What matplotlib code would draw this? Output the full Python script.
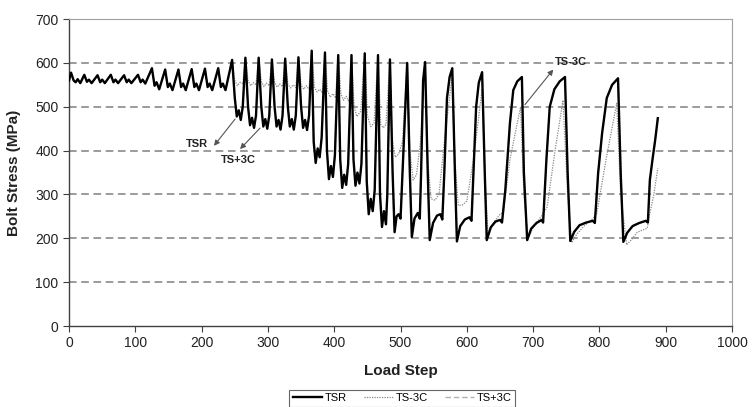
import numpy as np
import matplotlib
matplotlib.use('Agg')
import matplotlib.pyplot as plt

plt.rcParams['font.family'] = ['Liberation Sans', 'DejaVu Sans']

# TSR (thick black) - vertices
tsr_x = [0, 3, 7, 10, 13, 17, 23, 27, 30, 34, 43, 47, 50, 54, 63, 67, 70, 74, 83, 87, 90, 94,
         104, 108, 111, 115,
         125, 129, 132, 136, 145, 149, 152, 156, 165, 169, 172, 176, 185, 189, 192, 196,
         205, 209, 212, 216, 225, 229, 232, 236,
         246, 250, 253, 256, 259, 262, 266, 270, 273, 276, 279, 282, 286, 290, 293, 296, 299, 302,
         306, 310, 313, 316, 319, 322, 326, 330, 333, 336, 339, 342, 346, 350, 353, 356, 359, 362,
         366, 369, 372, 375, 378, 381, 386, 389, 392, 395, 398, 401, 406, 409, 412, 415, 418, 421,
         426, 429, 432, 435, 438, 441, 446, 449, 452, 455, 458, 461, 466, 469, 472, 475, 478, 480,
         484, 488, 491, 494, 497, 500, 503, 510, 514, 517, 521, 526, 529, 531, 534, 537,
         541, 544, 549, 555, 560, 563, 566, 570, 574, 578,
         582, 585, 590, 597, 604, 607, 610, 614, 618, 623,
         627, 630, 636, 643, 650, 653, 658, 665, 670, 676, 683,
         686, 691, 697, 705, 713, 715, 720, 725, 732, 740, 748,
         752, 756, 762, 770, 780, 790, 793, 798, 804, 811, 819, 828,
         832, 836, 842, 850, 860, 870, 873, 876, 880, 884, 888]
tsr_y = [560, 578, 560, 556, 563, 554, 573, 557, 562, 554, 572, 556, 562, 554, 573, 556, 562, 554, 572, 556, 562, 554,
         573, 556, 562, 553,
         588, 548, 556, 540, 585, 545, 553, 538, 585, 545, 553, 538, 586, 545, 553, 538,
         587, 545, 553, 538, 588, 545, 553, 538,
         607, 520, 478, 492, 470, 500, 612, 500, 458, 475, 452, 480, 612, 500, 455, 472, 450, 480,
         608, 500, 455, 470, 448, 480, 610, 500, 455, 472, 448, 480, 613, 500, 452, 470, 447, 480,
         628, 420, 372, 405, 385, 430, 624, 400, 335, 365, 340, 390, 618, 380, 315, 345, 322, 370,
         618, 380, 320, 350, 325, 370, 622, 330, 255, 290, 262, 310, 618, 300, 226, 262, 232, 300,
         608, 350, 214, 250, 255, 245, 350, 600, 350, 203, 245, 258, 245, 350, 560, 602,
         350, 196, 235, 252, 255, 243, 350, 520, 568, 588,
         350, 193, 228, 243, 248, 240, 350, 500, 555, 579,
         350, 196, 225, 238, 242, 236, 310, 463, 538, 558, 568,
         350, 196, 222, 235, 242, 236, 380, 500, 540, 558, 568,
         350, 194, 215, 230, 236, 240, 235, 349, 440, 520, 550, 565,
         350, 192, 213, 228, 235, 240, 236, 333, 380, 424, 474]

# TS-3C (dotted) - same as TSR up to step 236, then its own vertices
ts_m3c_x_tail = [246, 250, 254, 258, 262, 266, 270, 274, 278, 282, 286, 290, 294, 298, 302,
                 306, 310, 314, 318, 322, 326, 330, 334, 338, 342, 346, 350, 354, 358, 362,
                 366, 370, 374, 378, 382, 386, 390, 394, 398, 402, 406, 410, 414, 418, 422,
                 426, 430, 434, 440, 446, 450, 455, 460, 466, 470, 474, 478, 484, 488, 492, 497, 503,
                 510, 514, 519, 524, 530, 537, 541, 546, 552, 558, 566, 578, 582, 587, 593, 600, 610, 623,
                 627, 632, 640, 650, 655, 665, 681, 686, 692, 700, 710, 721, 733, 745,
                 752, 758, 766, 778, 790, 796, 810, 826, 832, 841, 850, 857, 872, 876, 882, 888]
ts_m3c_y_tail = [607, 560, 548, 556, 552, 612, 560, 548, 555, 550, 612, 558, 546, 554, 548,
                 608, 556, 545, 552, 546, 610, 552, 543, 550, 544, 613, 550, 540, 548, 540,
                 628, 545, 534, 540, 532, 624, 535, 522, 530, 520, 618, 530, 515, 524, 512,
                 618, 500, 478, 490, 622, 480, 455, 462, 618, 460, 452, 460, 608, 420, 385, 392, 420,
                 600, 400, 333, 345, 420, 602, 380, 290, 287, 300, 420, 575, 380, 275, 276, 285, 380, 540,
                 350, 205, 235, 255, 258, 380, 500, 300, 200, 225, 245, 271, 400, 515,
                 300, 190, 210, 230, 245, 257, 380, 508, 300, 185, 200, 214, 223, 257, 300, 360]
n_head = tsr_x.index(246)
ts_m3c_x = tsr_x[:n_head] + ts_m3c_x_tail
ts_m3c_y = tsr_y[:n_head] + ts_m3c_y_tail

# TS+3C (dashed) lies under TSR in the picture
ts_p3c_x = tsr_x
ts_p3c_y = tsr_y

fig = plt.figure(figsize=(7.52, 4.07), dpi=100)
ax = fig.add_axes([0.0918, 0.199, 0.8817, 0.754])

ax.plot(ts_p3c_x, ts_p3c_y, color='#b0b0b0', linewidth=1.0, linestyle=(0, (4, 2)), label='TS+3C', zorder=2)
ax.plot(ts_m3c_x, ts_m3c_y, color='#8a8a8a', linewidth=0.9, linestyle=(0, (1, 1)), label='TS-3C', zorder=3)
ax.plot(tsr_x, tsr_y, color='black', linewidth=1.7, label='TSR', zorder=4)

ax.set_xlim(0, 1000)
ax.set_ylim(0, 700)
ax.set_xticks(np.arange(0, 1001, 100))
ax.set_yticks(np.arange(0, 701, 100))
for yv in range(100, 700, 100):
    ax.axhline(yv, color='#808080', linewidth=1.1, linestyle=(0, (5, 3)), zorder=1)

for s in ['left', 'bottom']:
    ax.spines[s].set_color('#404040')
    ax.spines[s].set_linewidth(1.0)
for s in ['top', 'right']:
    ax.spines[s].set_color('#a0a0a0')
    ax.spines[s].set_linewidth(0.8)
ax.tick_params(direction='out', length=4, width=0.8, color='#404040', labelsize=10, labelcolor='#222222')

ax.set_xlabel('Load Step', fontsize=11, fontweight='bold', color='#222222')
ax.set_ylabel('Bolt Stress (MPa)', fontsize=11, fontweight='bold', color='#222222')
ax.xaxis.set_label_coords(0.5, -0.125)
ax.yaxis.set_label_coords(-0.072, 0.5)

arr = dict(arrowstyle='-|>', color='#555555', lw=0.8, mutation_scale=8)
ax.annotate('', xy=(216, 406), xytext=(253, 477), arrowprops=arr)
ax.text(193, 415, 'TSR', fontsize=8, fontweight='bold', ha='center', va='center', color='#222222')
ax.annotate('', xy=(255, 399), xytext=(291, 456), arrowprops=arr)
ax.text(256, 378, 'TS+3C', fontsize=8, fontweight='bold', ha='center', va='center', color='#222222')
ax.annotate('', xy=(733, 590), xytext=(685, 500), arrowprops=arr)
ax.text(757, 602, 'TS-3C', fontsize=8, fontweight='bold', ha='center', va='center', color='#222222')

h, l = ax.get_legend_handles_labels()
order = [2, 1, 0]
leg = fig.legend([h[i] for i in order], [l[i] for i in order], loc='upper center',
                 bbox_to_anchor=(0.535, 0.042), ncol=3, fontsize=8, frameon=True,
                 fancybox=False, edgecolor='#404040', handlelength=2.6, columnspacing=1.5,
                 borderpad=0.3, handletextpad=0.3, borderaxespad=0)
leg.get_frame().set_linewidth(0.8)

fig.savefig('out.png', dpi=100)
